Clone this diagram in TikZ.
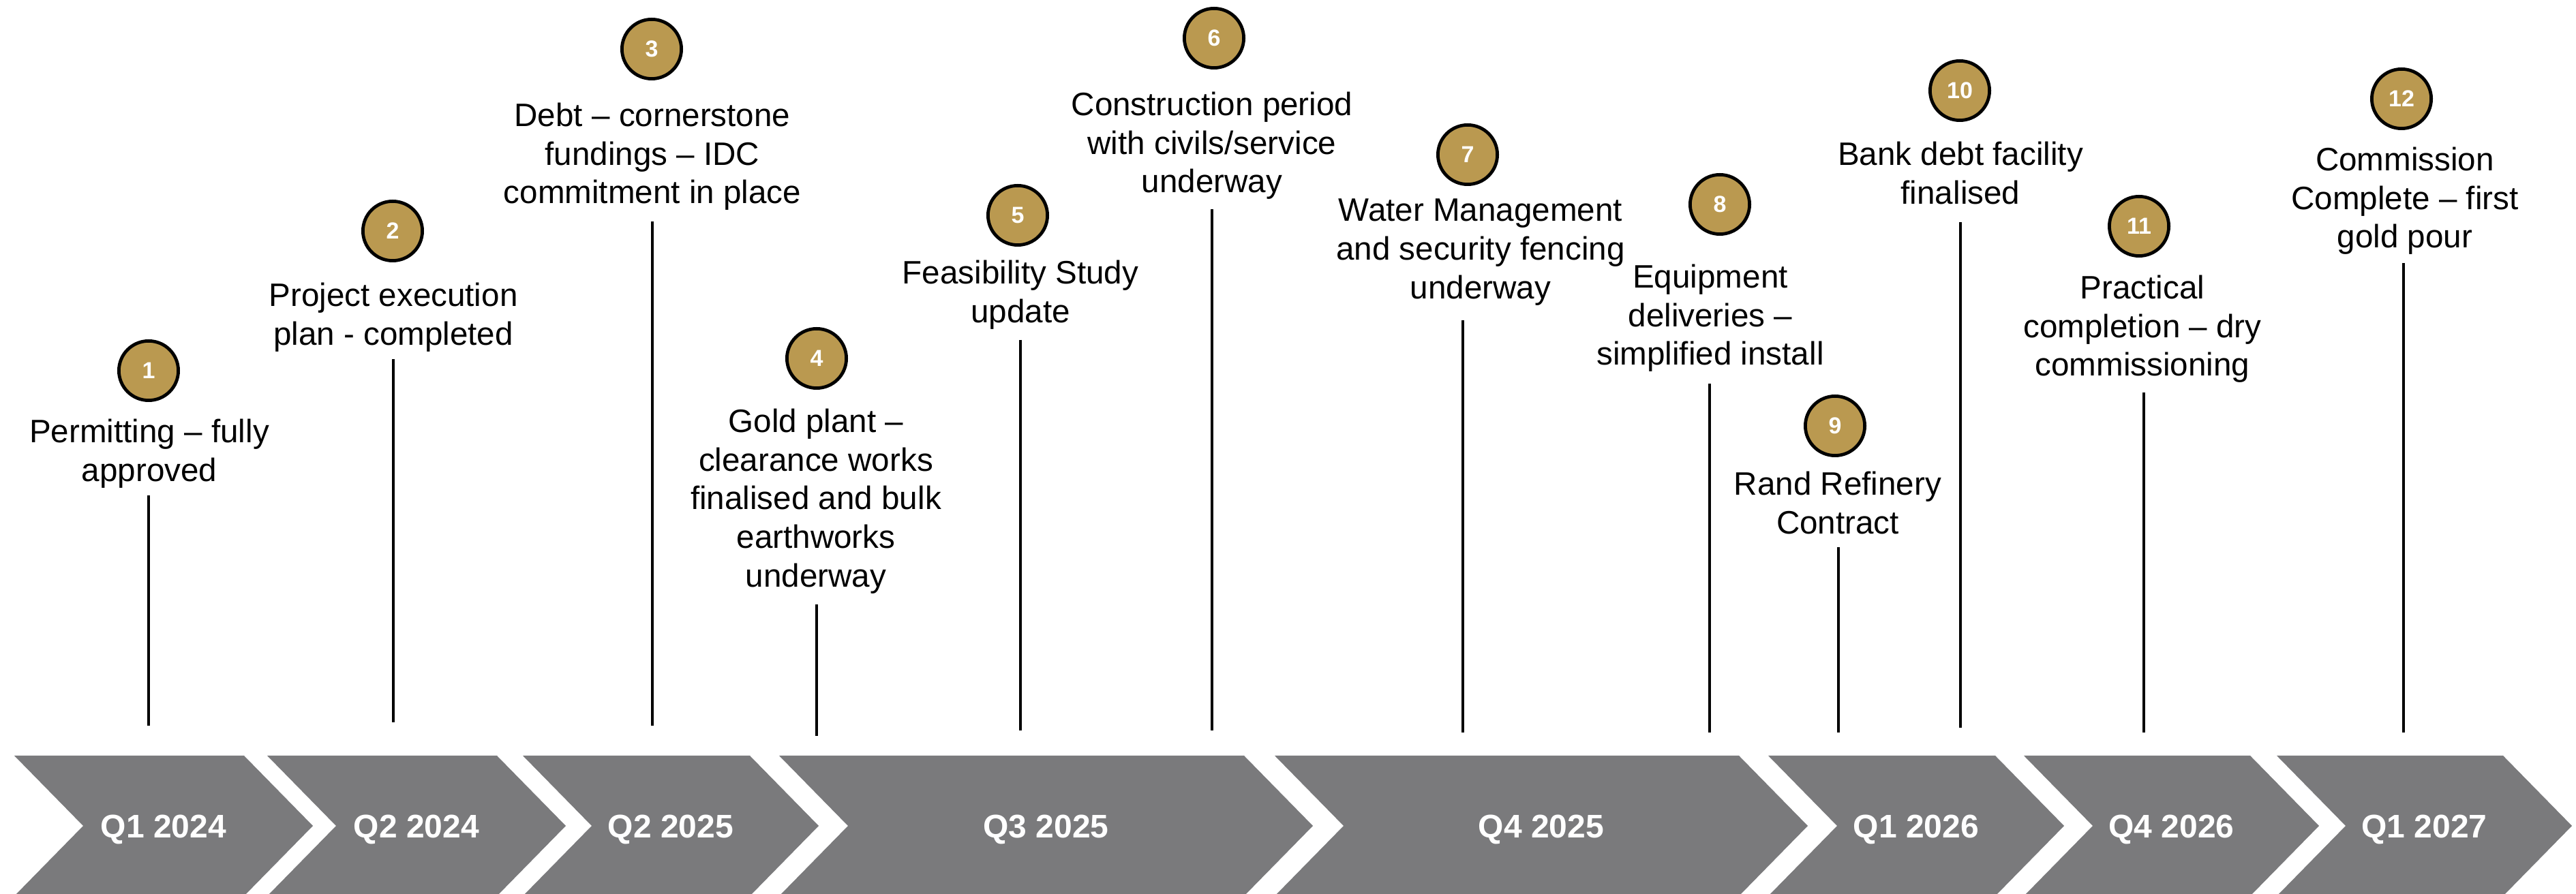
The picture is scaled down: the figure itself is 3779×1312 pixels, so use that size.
\documentclass[tikz,border=0pt]{standalone}
\usepackage{fontspec}
\setmainfont{Liberation Sans}
\begin{document}
\definecolor{gold}{RGB}{186,153,80}
\definecolor{band}{RGB}{122,122,124}
\begin{tikzpicture}[x=0.25pt,y=-0.25pt,
  num/.style={circle,draw=black,line width=1.2pt,fill=gold,minimum size=21.8pt,inner sep=0pt,
    text=white,font={\fontsize{8.5}{10}\selectfont\bfseries}},
  lbl/.style={anchor=north,align=center,inner sep=0pt,
    font={\fontsize{11.9}{14.2}\selectfont},execute at begin node={\rule{0pt}{10pt}}},
  stem/.style={line width=0.85pt,draw=black},
  qtr/.style={anchor=base,text=white,font={\fontsize{12}{14}\selectfont\bfseries}},
  chev/.style={fill=band}]
\useasboundingbox (0,0) rectangle (3779,1312);

% quarter chevrons: left edge, right edge at the top, point depth 101
\def\chevron#1#2#3#4{%
  \fill[chev] (#1,1109) -- (#2,1109) -- (#2+101,1212) -- (#2,1315) -- (#1,1315) -- (#1+101,1212) -- cycle;
  \node[qtr] (#3) at ({(#1+#2+101)/2},1230) {#4};}
\chevron{21}{358}{q1}{Q1 2024}
\chevron{392}{729}{q2}{Q2 2024}
\chevron{767}{1100}{q3}{Q2 2025}
\chevron{1143}{1825}{q4}{Q3 2025}
\chevron{1870}{2551}{q5}{Q4 2025}
\chevron{2594}{2927}{q6}{Q1 2026}
\chevron{2969}{3301}{q7}{Q4 2026}
\chevron{3340}{3672}{q8}{Q1 2027}

% milestones: number, caption, stem
\node[num] (n1) at (218,544) {1};
\node[lbl] (t1) at (219,614) {Permitting – fully\\approved};
\coordinate (s1a) at (218,727); \coordinate (s1b) at (218,1065);
\draw[stem] (s1a) -- (s1b);

\node[num] (n2) at (576,339) {2};
\node[lbl] (t2) at (577,414) {Project execution\\plan - completed};
\coordinate (s2a) at (577,527); \coordinate (s2b) at (577,1060);
\draw[stem] (s2a) -- (s2b);

\node[num] (n3) at (956,72) {3};
\node[lbl] (t3) at (957,150) {Debt – cornerstone\\fundings – IDC\\commitment in place};
\coordinate (s3a) at (957,325); \coordinate (s3b) at (957,1065);
\draw[stem] (s3a) -- (s3b);

\node[num] (n4) at (1198,526) {4};
\node[lbl] (t4) at (1197,599) {Gold plant –\\clearance works\\finalised and bulk\\earthworks\\underway};
\coordinate (s4a) at (1198,887); \coordinate (s4b) at (1198,1080);
\draw[stem] (s4a) -- (s4b);

\node[num] (n5) at (1493,316) {5};
\node[lbl] (t5) at (1497,381) {Feasibility Study\\update};
\coordinate (s5a) at (1497,499); \coordinate (s5b) at (1497,1072);
\draw[stem] (s5a) -- (s5b);

\node[num] (n6) at (1781,56) {6};
\node[lbl] (t6) at (1778,134) {Construction period\\with civils/service\\underway};
\coordinate (s6a) at (1778,307); \coordinate (s6b) at (1778,1072);
\draw[stem] (s6a) -- (s6b);

\node[num] (n7) at (2153,227) {7};
\node[lbl] (t7) at (2172,291) {Water Management\\and security fencing\\underway};
\coordinate (s7a) at (2146,470); \coordinate (s7b) at (2146,1075);
\draw[stem] (s7a) -- (s7b);

\node[num] (n8) at (2523,300) {8};
\node[lbl] (t8) at (2509,387) {Equipment\\deliveries –\\simplified install};
\coordinate (s8a) at (2508,563); \coordinate (s8b) at (2508,1075);
\draw[stem] (s8a) -- (s8b);

\node[num] (n9) at (2692,625) {9};
\node[lbl] (t9) at (2696,691) {Rand Refinery\\Contract};
\coordinate (s9a) at (2697,803); \coordinate (s9b) at (2697,1075);
\draw[stem] (s9a) -- (s9b);

\node[num] (n10) at (2875,133) {10};
\node[lbl] (t10) at (2876,207) {Bank debt facility\\finalised};
\coordinate (s10a) at (2876,326); \coordinate (s10b) at (2876,1068);
\draw[stem] (s10a) -- (s10b);

\node[num] (n11) at (3138,332) {11};
\node[lbl] (t11) at (3143,403) {Practical\\completion – dry\\commissioning};
\coordinate (s11a) at (3145,576); \coordinate (s11b) at (3145,1075);
\draw[stem] (s11a) -- (s11b);

\node[num] (n12) at (3523,145) {12};
\node[lbl] (t12) at (3528,215) {Commission\\Complete – first\\gold pour};
\coordinate (s12a) at (3526,386); \coordinate (s12b) at (3526,1075);
\draw[stem] (s12a) -- (s12b);
\end{tikzpicture}
\end{document}
